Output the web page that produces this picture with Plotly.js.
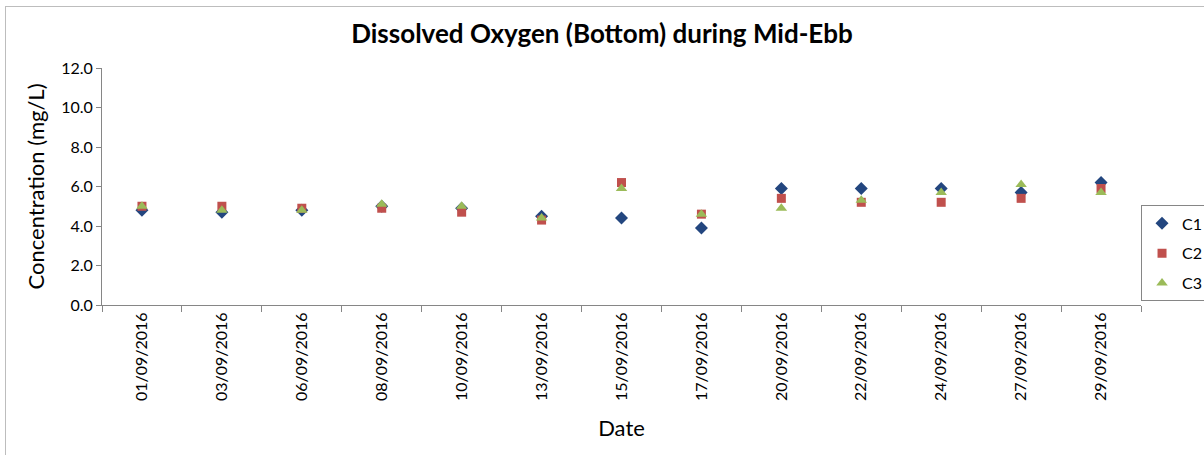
<!DOCTYPE html>
<html>
<head>
<meta charset="utf-8">
<script src="https://cdn.plot.ly/plotly-3.0.1.min.js"></script>
<style>
  body { margin: 0; background: #fff; overflow: hidden; }
  #frame { position: absolute; left: 5px; top: 6px; width: 1220px; height: 470px; border: 1px solid #BDBDBD; box-sizing: border-box; }
  #chart { position: absolute; left: 0; top: 0; width: 1204px; height: 455px; }
</style>
</head>
<body>
<div id="frame"></div>
<div id="chart"></div>
<script>
const dates = ['01/09/2016', '03/09/2016', '06/09/2016', '08/09/2016', '10/09/2016', '13/09/2016', '15/09/2016',
               '17/09/2016', '20/09/2016', '22/09/2016', '24/09/2016', '27/09/2016', '29/09/2016'];
const c1 = [4.8, 4.7, 4.8, 5.0, 4.9, 4.5, 4.4, 3.9, 5.9, 5.9, 5.9, 5.7, 6.2];
const c2 = [5.0, 5.0, 4.9, 4.9, 4.7, 4.3, 6.2, 4.6, 5.4, 5.2, 5.2, 5.4, 5.9];
const c3 = [5.0, 4.8, 4.8, 5.1, 5.0, 4.4, 5.9, 4.6, 4.9, 5.3, 5.7, 6.1, 5.7];

const font = 'Lato, "Liberation Sans", sans-serif';

function series(name, y, symbol, color, size) {
    return {
        x: dates, y: y, name: name, type: 'scatter', mode: 'markers', legendgroup: name,
        marker: { symbol: symbol, color: color, size: size, line: { width: 0 } }
    };
}

const data = [
    series('C1', c1, 'diamond', '#23467F', 10),
    series('C2', c2, 'square', '#C0504D', 9),
    series('C3', c3, 'triangle-up', '#9BBB59', 10)
];

const layout = {
    width: 1204, height: 455,
    margin: { l: 102, r: 63, t: 68, b: 150 },
    paper_bgcolor: 'rgba(0,0,0,0)', plot_bgcolor: 'rgba(0,0,0,0)',
    font: { family: font, color: '#000', size: 16 },
    title: {
        text: '<b>Dissolved Oxygen (Bottom) during Mid-Ebb</b>',
        font: { size: 26, family: font },
        x: 0.5, xanchor: 'center', y: 0.925, yanchor: 'middle'
    },
    xaxis: {
        type: 'category',
        range: [-0.5, 12.5],
        tickangle: -90,
        tickson: 'boundaries',
        ticks: 'outside', ticklen: 6, tickcolor: '#868686',
        showline: true, linecolor: '#868686', linewidth: 1,
        showgrid: false, zeroline: false,
        tickfont: { size: 16 },
        title: { text: 'Date', font: { size: 22 }, standoff: 20 }
    },
    yaxis: {
        range: [0, 12], dtick: 2, tickformat: '.1f',
        ticks: 'outside', ticklen: 5, tickcolor: '#868686',
        showline: true, linecolor: '#868686', linewidth: 1,
        showgrid: false, zeroline: false,
        tickfont: { size: 16 },
        title: { text: 'Concentration (mg/L)', font: { size: 22 }, standoff: 10 }
    },
    showlegend: true,
    legend: {
        xref: 'container', x: 0.9477, xanchor: 'left',
        yref: 'paper', y: 0.42, yanchor: 'top',
        bgcolor: '#fff',
        bordercolor: '#868686', borderwidth: 1,
        traceorder: 'grouped', tracegroupgap: 6,
        font: { size: 16 }, itemwidth: 30
    }
};

Plotly.newPlot('chart', data, layout, { displayModeBar: false, staticPlot: true });
</script>
</body>
</html>
